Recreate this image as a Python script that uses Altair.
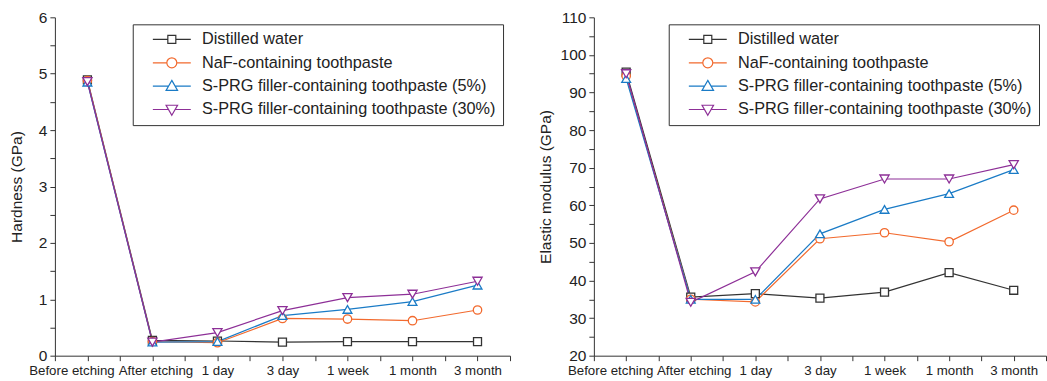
import altair as alt
import pandas as pd

stages = ["Before etching", "After etching", "1 day", "3 day", "1 week", "1 month", "3 month"]
series = [
    "Distilled water",
    "NaF-containing toothpaste",
    "S-PRG filler-containing toothpaste (5%)",
    "S-PRG filler-containing toothpaste (30%)",
]
colors = ["#333333", "#f26a2e", "#1a7bc6", "#8d2f97"]

# Hardness (GPa)
hard_water = [4.89, 0.27, 0.26, 0.24, 0.25, 0.25, 0.25]
hard_naf = [4.88, 0.25, 0.23, 0.66, 0.65, 0.62, 0.81]
hard_sprg5 = [4.85, 0.24, 0.25, 0.71, 0.82, 0.96, 1.25]
hard_sprg30 = [4.86, 0.24, 0.41, 0.80, 1.03, 1.09, 1.32]

# Elastic modulus (GPa)
mod_water = [95.4, 35.6, 36.5, 35.3, 36.9, 42.1, 37.4]
mod_naf = [94.4, 35.0, 34.3, 51.1, 52.7, 50.3, 58.7]
mod_sprg5 = [93.7, 35.0, 35.0, 52.4, 58.9, 63.1, 69.5]
mod_sprg30 = [95.0, 34.2, 42.3, 61.7, 67.0, 67.0, 70.8]

FONT = "Liberation Sans"
TXT = "#222222"


def long_df(cols):
    rows = []
    for s, vals in zip(series, cols):
        for i, v in enumerate(vals):
            rows.append({"idx": i, "stage": stages[i], "series": s, "value": v})
    return pd.DataFrame(rows)


hard_df = long_df([hard_water, hard_naf, hard_sprg5, hard_sprg30])
mod_df = long_df([mod_water, mod_naf, mod_sprg5, mod_sprg30])

marker_shapes = ["square", "circle", "triangle-up", "triangle-down"]
marker_sizes = [64, 85, 130, 130]
legend_paths = [
    "M-3.8,0H-0.8M0.8,0H3.8M-0.8,-0.8H0.8V0.8H-0.8Z",
    "M-3.8,0H-1M1,0H3.8M-1,0A1,1 0 1,0 1,0A1,1 0 1,0 -1,0Z",
    "M-3.8,0H-0.66M0.66,0H3.8M0,-1.15L1.15,0.85H-1.15Z",
    "M-3.8,0H-0.66M0.66,0H3.8M0,1.15L1.15,-0.85H-1.15Z",
]

xticks = [i * 0.5 - 0.5 for i in range(15)]
stage_arr = "[" + ",".join("'" + s + "'" for s in stages) + "]"
xlabel_expr = "datum.value % 1 === 0 ? " + stage_arr + "[datum.value] : ''"
series_arr = "[" + ",".join("'" + s + "'" for s in series) + "]"
color_arr = "[" + ",".join("'" + c + "'" for c in colors) + "]"
legend_stroke = color_arr + "[indexof(" + series_arr + ", datum.value)]"


def panel(df, ytitle, ydomain, ystep, ymajor, width, title_pad):
    n = int(round((ydomain[1] - ydomain[0]) / ystep)) + 1
    yticks = [ydomain[0] + k * ystep for k in range(n)]
    x = alt.X(
        "idx:Q",
        scale=alt.Scale(domain=[-0.5, 6.5], nice=False, zero=False),
        axis=alt.Axis(
            values=xticks, labelExpr=xlabel_expr, title=None, grid=False,
            labelFontSize=13.3, labelPadding=3, labelOverlap=False, labelFlush=False,
            tickSize=5,
            labelOffset={
                "condition": [
                    {"test": "datum.value === 0", "value": -16},
                    {"test": "datum.value === 1", "value": 3},
                ],
                "value": 0,
            },
        ),
    )
    y = alt.Y(
        "value:Q",
        scale=alt.Scale(domain=ydomain, nice=False, zero=False),
        axis=alt.Axis(
            values=yticks,
            labelExpr="datum.value % " + str(ymajor) + " === 0 ? format(datum.value, 'd') : ''",
            title=ytitle, titlePadding=title_pad, grid=False,
            labelFontSize=15.5, labelPadding=3, tickSize=5, labelOverlap=False,
            titleFontSize=15.5, titleFontWeight="normal",
        ),
    )
    cscale = alt.Scale(domain=series, range=colors)
    base = alt.Chart(df).encode(x=x, y=y)
    line = base.mark_line(strokeWidth=1.2).encode(
        color=alt.Color("series:N", scale=cscale, legend=None)
    )
    pts = base.mark_point(filled=False, fill="white", strokeWidth=1.3, opacity=1).encode(
        color=alt.Color("series:N", scale=cscale, legend=None),
        shape=alt.Shape("series:N", scale=alt.Scale(domain=series, range=marker_shapes), legend=None),
        size=alt.Size("series:N", scale=alt.Scale(domain=series, range=marker_sizes), legend=None),
    )
    leg_spec = alt.Legend(
        title=None, orient="top-right", offset=7, strokeColor="#333333",
        padding=7, labelFontSize=16.3, labelFont=FONT, labelColor=TXT,
        symbolSize=100, symbolStrokeWidth=1.2, symbolOpacity=1,
        symbolFillColor="white", rowPadding=6.4, labelOffset=22, symbolOffset=24,
        labelLimit=400,
        symbolStrokeColor=alt.ExprRef(legend_stroke),
    )
    leg = base.mark_point(opacity=0).encode(
        shape=alt.Shape("series:N", scale=alt.Scale(domain=series, range=legend_paths), legend=leg_spec),
    )
    return (
        alt.layer(line, pts, leg)
        .resolve_scale(shape="independent", size="independent")
        .properties(width=width, height=339)
    )


left = panel(hard_df, "Hardness (GPa)", [0, 6], 0.5, 1, 456, 14)
right = panel(mod_df, "Elastic modulus (GPa)", [20, 110], 5, 10, 453, 7)

chart = (
    alt.hconcat(left, right, spacing=27)
    .resolve_scale(color="independent", shape="independent", size="independent")
    .resolve_legend(shape="independent")
    .properties(padding={"left": 9, "top": 10, "right": 0, "bottom": 0})
    .configure(font=FONT)
    .configure_view(stroke=None)
    .configure_axis(
        domainColor="#333333", tickColor="#333333", labelColor=TXT, titleColor=TXT,
        labelFont=FONT, titleFont=FONT, domainWidth=1, tickWidth=1,
    )
)

chart.save("out.html", embed_options={"renderer": "svg", "actions": False})
